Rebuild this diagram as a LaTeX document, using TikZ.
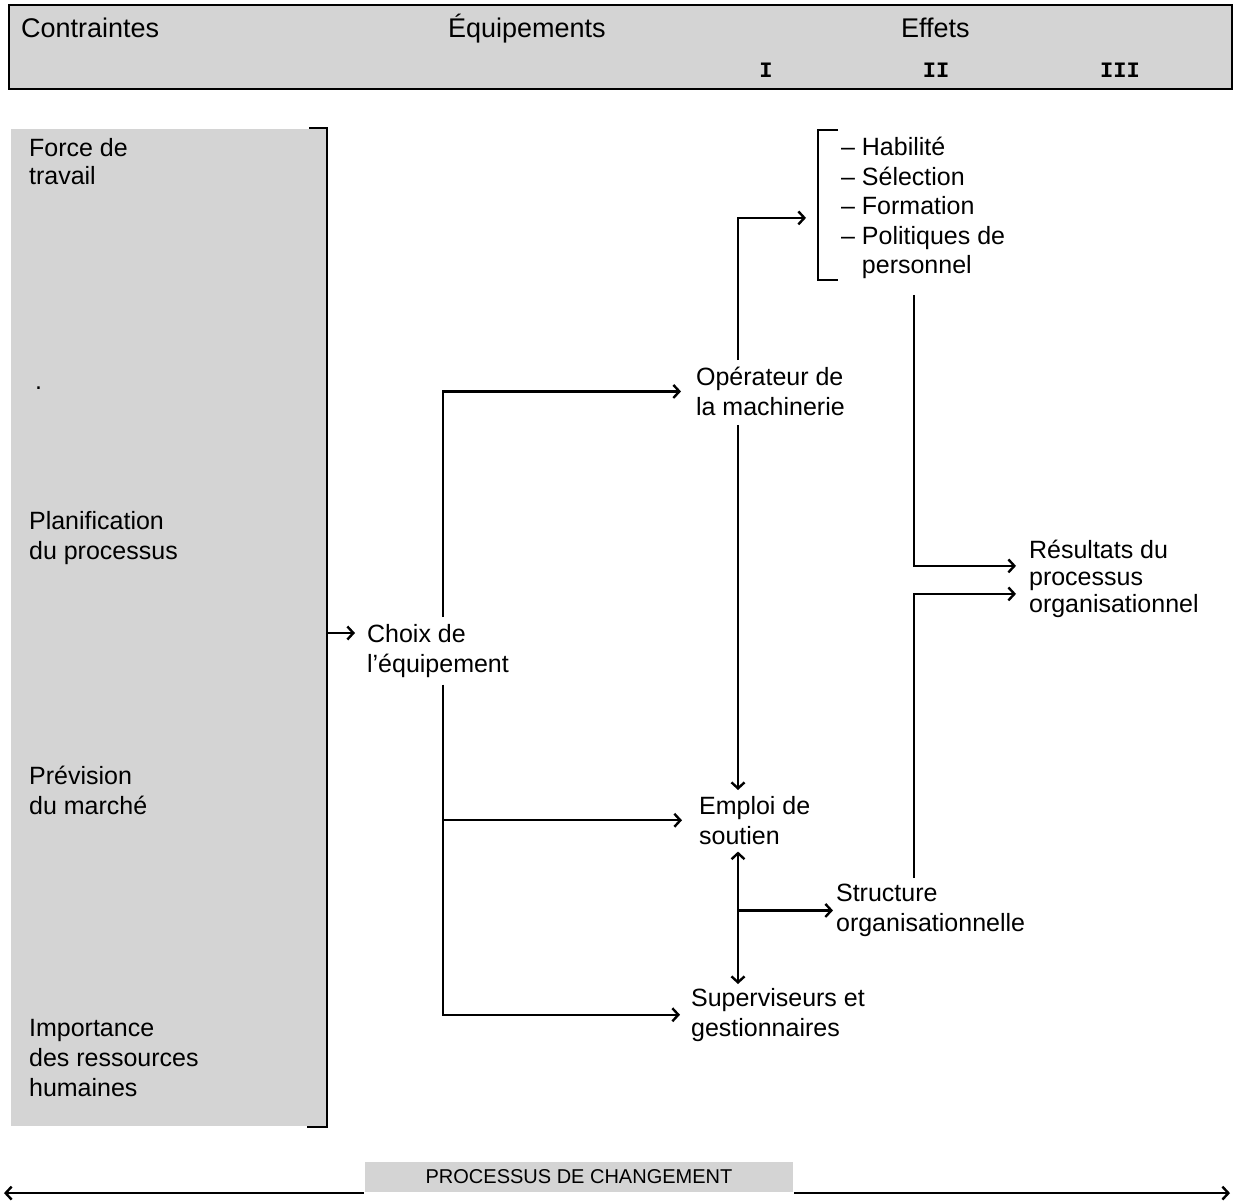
\documentclass[tikz,border=0pt]{standalone}
\usepackage{fontspec}
\setmainfont{Liberation Sans}
\setmonofont{Liberation Mono}
\usetikzlibrary{arrows.meta}

\begin{document}
\begin{tikzpicture}[x=1pt,y=-1pt,line width=2.2pt,
  txt/.style={anchor=north west,align=left,inner sep=0pt,font=\fontsize{25}{30}\selectfont},
  hd/.style={anchor=base west,inner sep=0pt,font=\fontsize{27}{32}\selectfont},
  num/.style={inner sep=0pt,font=\fontsize{22}{26}\selectfont\ttfamily\bfseries},
  shade/.style={fill=black!17},
  arr/.style={-{Straight Barb[length=6pt,width=13pt,line width=2.4pt]}},
  arr2/.style={{Straight Barb[length=6pt,width=13pt,line width=2.4pt]}-{Straight Barb[length=6pt,width=13pt,line width=2.4pt]}}]
\path [use as bounding box,fill=white] (0,0) rectangle (1233,1201);

\node [shade,draw,anchor=north west,minimum width=1223pt,minimum height=84pt] (tete) at (8,4) {};
\node [hd] (contr) at (20,38) {Contraintes};
\node [hd] (equip) at (447,38) {Équipements};
\node [hd] (effets) at (900,38) {Effets};
\node [num] (n1) at (766,70) {I};
\node [num] (n2) at (936,70) {II};
\node [num] (n3) at (1120,70) {III};

\node [shade,anchor=north west,minimum width=315pt,minimum height=997pt] (panel) at (10,128) {};
\draw [line width=1.8pt] ([xshift=-18pt]panel.north east) -- (panel.north east)
  -- (panel.south east) -- ([xshift=-20pt]panel.south east);
\node [txt,font=\fontsize{25}{28}\selectfont] (force) at (28,137) {Force de\\travail};
\node [anchor=base west,inner sep=0pt,font=\fontsize{25}{30}\selectfont] (point) at (34,389) {.};
\node [txt] (planif) at (28,510) {Planification\\du processus};
\node [txt] (prevision) at (28,765) {Prévision\\du marché};
\node [txt] (import) at (28,1018) {Importance\\des ressources\\humaines};

\node [txt] (choix) at (366,623) {Choix de\\l'équipement};
\node [txt] (oper) at (695,366) {Opérateur de\\la machinerie};
\node [txt] (emploi) at (698,795) {Emploi de\\soutien};
\node [txt] (superv) at (690,987) {Superviseurs et\\gestionnaires};
\node [txt] (struct) at (835,883) {Structure\\organisationnelle};
\node [txt,font=\fontsize{25}{29.5}\selectfont] (liste) at (840,136)
  {– Habilité\\– Sélection\\– Formation\\– Politiques de\\\phantom{– }personnel};
\node [txt,font=\fontsize{25}{27}\selectfont] (result) at (1028,539)
  {Résultats du\\processus\\organisationnel};

\coordinate (tronc) at (443,0);
\coordinate (col) at (738,0);
\coordinate (col3) at (914,0);
\coordinate (choixL) at ([shift={(-11,10)}]choix.north west);

\draw [arr] (panel.east |- choixL) -- (choixL);
\draw [arr] ([yshift=6pt]choix.north -| tronc) |- ([xshift=-14pt]oper.west);
\draw [arr] (tronc |- emploi.west) -- ([xshift=-16pt]emploi.west);
\draw [arr] ([yshift=-6pt]choix.south -| tronc) |- ([xshift=-10pt]superv.west);

\draw [line width=1.8pt] ([shift={(-2,-6)}]liste.north west) -| ([shift={(-22,0)}]liste.south west)
  -- ([shift={(-2,0)}]liste.south west);
\draw [arr] ([yshift=6pt]oper.north -| col) |- ([shift={(-34,10)}]liste.west);
\draw [arr] ([yshift=-8pt]oper.south -| col) -- ([yshift=5pt]emploi.north -| col);
\draw [arr2] ([yshift=-6pt]emploi.south -| col) -- ([yshift=3pt]superv.north -| col);
\draw [arr] (col |- struct.west) -- ([xshift=-2pt]struct.west);

\draw [arr] ([yshift=-15pt]liste.south -| col3) |- ([shift={(-12,-13)}]result.west);
\draw [arr] ([yshift=5pt]struct.north -| col3) |- ([shift={(-12,15)}]result.west);

\node [shade,minimum width=428pt,minimum height=30pt,inner sep=0pt,
  font=\fontsize{20}{24}\selectfont] (chgt) at (579,1177) {PROCESSUS DE CHANGEMENT};
\coordinate (gauche) at (4,1191);
\coordinate (droite) at (1230,1191);
\draw [arr] (chgt.south west) -- (gauche |- chgt.south);
\draw [arr] (chgt.south east) -- (droite |- chgt.south);
\end{tikzpicture}
\end{document}
